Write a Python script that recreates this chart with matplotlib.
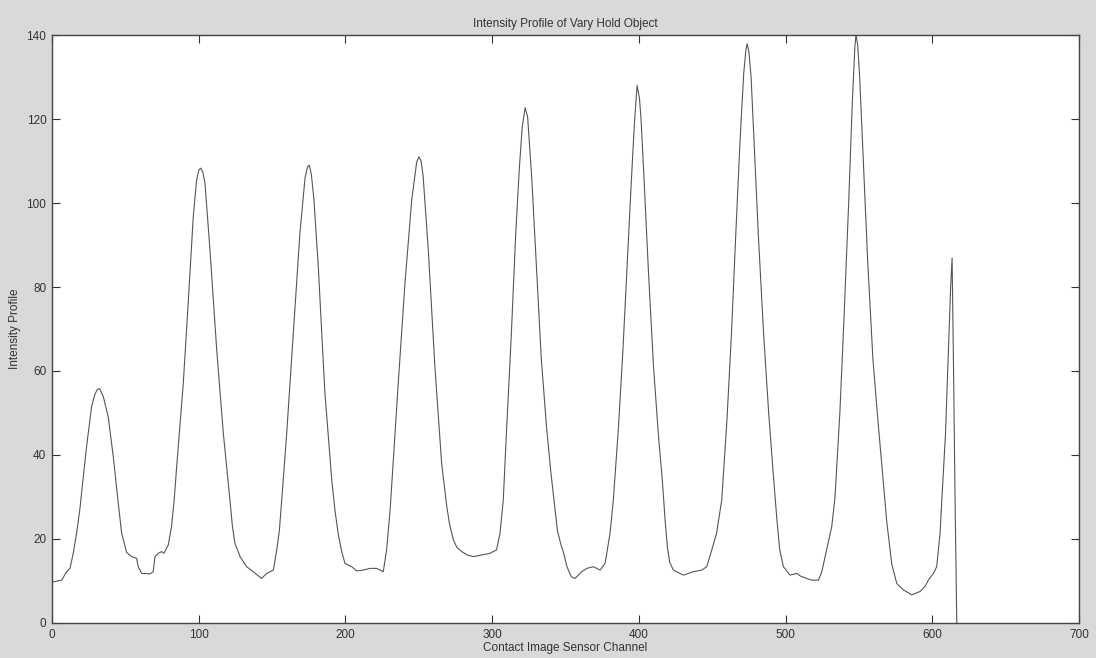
import matplotlib
matplotlib.use("Agg")
import matplotlib.pyplot as plt

# Intensity profile (channel, intensity)
channel = [
    1, 6.6, 10, 12.3, 14.5, 16.8, 19, 20.5, 23.6, 27, 29.3, 31, 32.5, 35, 38.4, 41.8,
    45.2, 47.5, 50.9, 54.3, 57.7, 58.8, 61.1, 66.8, 69, 70.2, 72.5, 74.8, 76.3, 79.3,
    81.5, 83.3,
    85, 89.5, 93, 96.3, 98.6, 100.2, 101.4, 102.8, 104.3, 107.7, 112.3, 116.8, 121.3,
    123, 124.7, 128.2, 132.7, 137.2, 142.9, 146.3, 150.9, 153.2, 155, 156.6,
    160, 164.5, 169, 172.5, 174.2, 175.4, 176.8, 178.5, 181.5, 186, 190.7, 193, 195.2,
    197.5, 199.7, 204.3, 207.7, 212.2, 216.8, 221.3, 225.8, 228.1, 230.5, 231.6,
    236, 240.6, 245.2, 248.6, 250.2, 251.6, 253, 256.5, 261, 265.6, 269, 271, 273.6,
    276, 279.3, 283, 287.2, 292.9, 298.6, 303, 305.4, 307.6,
    310, 313, 316, 318.5, 320.5, 322.5, 324.2, 327, 330, 333.5, 337, 340, 342.9,
    344.5, 347, 348.5, 351, 354, 356.5, 361, 364.5, 369, 373.6, 377, 380.4, 382.6,
    386, 389, 392, 395, 397, 398.8, 400.4, 401.5, 403.5, 406.5, 410, 413.5, 416, 418,
    419.5, 421, 423.5, 430.3, 437.1, 442.9, 446.3, 449.7, 453, 456.5,
    460, 463, 466, 469, 471.5, 473, 473.8, 475, 476.5, 478.5, 481.5, 485, 488.5,
    491.5, 494, 496, 498.5, 503, 507.6, 510, 514.4, 517.9, 522.4, 524.7, 528, 531.5,
    533.7,
    537, 540, 543, 545.5, 547.2, 548, 549.2, 550.5, 553, 556, 559.5, 563, 566, 569,
    572.4, 575.8, 580.3, 586, 591.7, 595, 597.3, 600.8, 603, 605.3, 606.5, 609, 611,
    612.5, 613.5, 614.5, 615.5, 616.7,
]
intensity = [
    9.8, 10.2, 12.2, 13, 16.6, 21.4, 27, 32, 42, 51.5, 54.5, 55.6, 55.8, 53.9, 49, 39.6,
    28.5, 21.4, 16.8, 15.8, 15.4, 13.4, 11.8, 11.7, 12.2, 15.8, 16.6, 17, 16.6, 18.6,
    23, 29.3,
    37.2, 57, 77, 96.7, 105.5, 107.9, 108.3, 107.4, 104.7, 88.8, 65, 45.2, 29.3,
    23, 19, 15.8, 13.4, 12.2, 10.6, 11.8, 12.6, 17.4, 22, 29.3,
    45.2, 69, 92.8, 106, 108.6, 109, 106.8, 101, 85, 55, 34, 26.5, 21,
    17, 14.2, 13.4, 12.4, 12.6, 13, 13, 12.2, 17.4, 27, 33,
    57, 80.9, 100.7, 109.8, 111, 110, 106.3, 88.8, 61, 38, 28, 23.5, 19.8,
    18, 17, 16.2, 15.8, 16.2, 16.6, 17.4, 21.4, 29.3,
    47, 68, 92, 108, 118, 122.7, 120.5, 106, 86, 63, 47, 36, 27,
    22, 18.5, 17, 13.4, 11, 10.6, 12.2, 13, 13.4, 12.6, 14.2, 21.4, 29.3,
    46, 64, 85, 106, 119, 128, 125, 120, 106, 84, 61, 44, 34, 24,
    18, 14.5, 12.6, 11.4, 12.2, 12.6, 13.4, 17.4, 21.4, 29.3,
    48, 68, 92, 115, 131, 136.5, 137.9, 136, 130, 115, 92, 69, 50,
    36, 25, 17.5, 13.4, 11.4, 11.8, 11.2, 10.6, 10.2, 10.2, 12.2, 17.4, 23,
    30,
    50, 74, 100, 124, 137, 140.2, 137.5, 130, 110, 86, 63, 48, 36, 24,
    14, 9.4, 7.9, 6.7, 7.5, 8.7, 10.2, 11.8, 13.4, 21.4, 29.3, 45, 65,
    80, 86.9, 60, 30, 0,
]

title = "Intensity Profile of Vary Hold Object"
xlabel = "Contact Image Sensor Channel"
ylabel = "Intensity Profile"
xticks = [0, 100, 200, 300, 400, 500, 600, 700]
yticks = [0, 20, 40, 60, 80, 100, 120, 140]

plt.rcParams['font.family'] = ['Liberation Sans', 'DejaVu Sans']

fig = plt.figure(figsize=(10.96, 6.58), dpi=100)
fig.patch.set_facecolor('#d9d9d9')
ax = fig.add_axes([0.0474, 0.0532, 0.9371, 0.8936])
ax.set_facecolor('white')

ax.plot(channel, intensity, color='#555555', linewidth=0.8)

ax.set_xlim(0, 700)
ax.set_ylim(0, 140)
ax.set_xticks(xticks)
ax.set_yticks(yticks)
ax.tick_params(direction='in', length=6, width=0.8, top=True, right=True,
               labelsize=8.5, colors='#333333', pad=4)
for s in ax.spines.values():
    s.set_color('#444444')
    s.set_linewidth(1.0)

ax.set_title(title, fontsize=8.5, color='#333333', pad=6)
ax.set_xlabel(xlabel, fontsize=8.5, color='#333333', labelpad=1)
ax.set_ylabel(ylabel, fontsize=8.5, color='#333333', labelpad=4)

fig.savefig('out.png', dpi=100, facecolor=fig.get_facecolor())
